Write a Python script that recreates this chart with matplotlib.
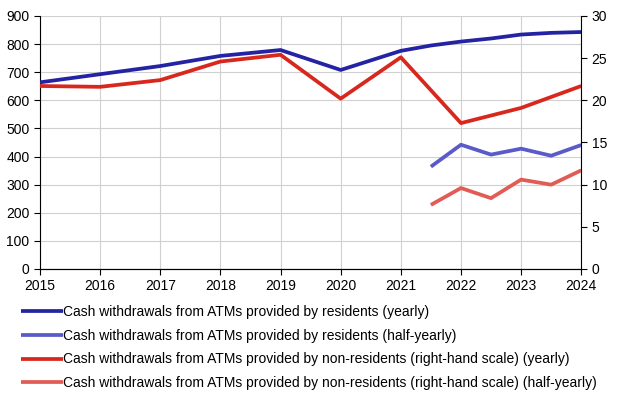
import matplotlib.pyplot as plt

plt.rcParams['font.family'] = ['Liberation Sans', 'DejaVu Sans']
plt.rcParams['font.size'] = 10

# yearly series (rolling yearly figures at half-year steps after 2021)
x_yearly = [2015, 2016, 2017, 2018, 2019, 2020, 2021, 2021.5, 2022, 2022.5, 2023, 2023.5, 2024]
residents_yearly = [664, 693, 722, 758, 779, 708, 776, 795, 809, 820, 834, 840, 843]
x_yearly_non = [2015, 2016, 2017, 2018, 2019, 2020, 2021, 2022, 2022.5, 2023, 2023.5, 2024]
nonresidents_yearly = [21.7, 21.6, 22.4, 24.6, 25.4, 20.2, 25.1, 17.3, 18.2, 19.1, 20.4, 21.7]

# half-yearly series
x_half = [2021.5, 2022, 2022.5, 2023, 2023.5, 2024]
residents_half = [364, 442, 407, 428, 403, 441]
nonresidents_half = [7.6, 9.6, 8.4, 10.6, 10.0, 11.7]

years = list(range(2015, 2025))

c_res_y = "#2323a3"
c_res_h = "#5a5ac8"
c_non_y = "#d8281d"
c_non_h = "#e05c54"

fig = plt.figure(figsize=(6.2, 3.95), dpi=100)
ax = fig.add_axes([0.0645, 0.319, 0.873, 0.6405])
ax2 = ax.twinx()

l1, = ax.plot(x_yearly, residents_yearly, color=c_res_y, lw=2.7, solid_capstyle='butt', zorder=5)
l2, = ax.plot(x_half, residents_half, color=c_res_h, lw=2.7, solid_capstyle='butt', zorder=5)
l3, = ax2.plot(x_yearly_non, nonresidents_yearly, color=c_non_y, lw=2.7, solid_capstyle='butt', zorder=5)
l4, = ax2.plot(x_half, nonresidents_half, color=c_non_h, lw=2.7, solid_capstyle='butt', zorder=5)

ax.set_xlim(2015, 2024)
ax.set_ylim(0, 900)
ax2.set_ylim(0, 30)
ax.set_xticks(years)
ax.set_yticks(range(0, 901, 100))
ax2.set_yticks(range(0, 31, 5))

ax.grid(True, color="#d0d0d0", lw=0.8)
ax.set_axisbelow(True)

for a in (ax, ax2):
    a.spines['top'].set_visible(False)
    a.tick_params(colors='black', length=4, width=0.8, labelsize=10)
ax.spines['right'].set_visible(False)
ax2.spines['left'].set_visible(False)
ax2.spines['right'].set_color('black')

fig.legend([l1, l2, l3, l4],
           ["Cash withdrawals from ATMs provided by residents (yearly)",
            "Cash withdrawals from ATMs provided by residents (half-yearly)",
            "Cash withdrawals from ATMs provided by non-residents (right-hand scale) (yearly)",
            "Cash withdrawals from ATMs provided by non-residents (right-hand scale) (half-yearly)"],
           loc='upper left', bbox_to_anchor=(0.025, 0.242), frameon=False,
           handlelength=3.0, handletextpad=0.0, labelspacing=0.7, borderaxespad=0)

fig.savefig("out.png", dpi=100)
